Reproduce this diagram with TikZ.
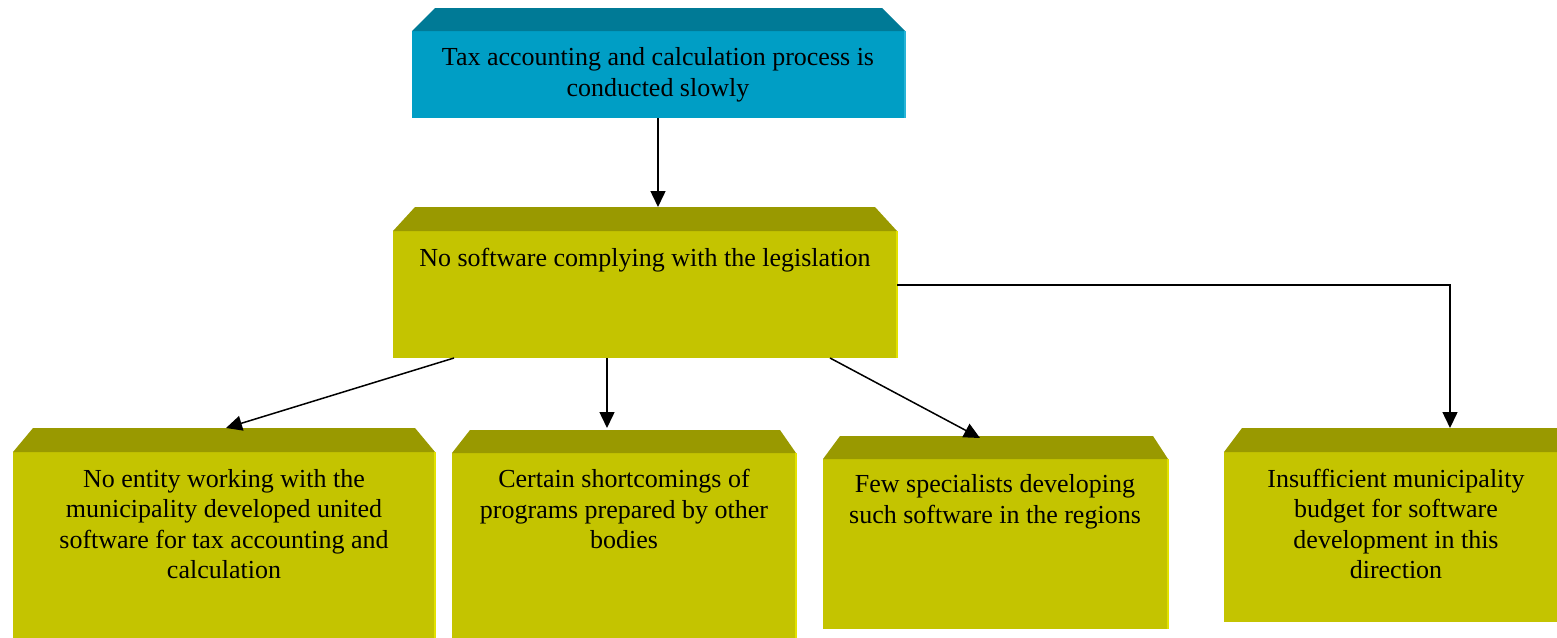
\documentclass[tikz,border=0pt]{standalone}
\usepackage{fontspec}
\setmainfont{Liberation Serif}
\usetikzlibrary{arrows.meta,calc}
\definecolor{bfront}{RGB}{0,158,197}
\definecolor{btop}{RGB}{0,122,150}
\definecolor{yfront}{RGB}{196,196,0}
\definecolor{ytop}{RGB}{153,153,0}
\definecolor{yedge}{RGB}{226,226,0}
\definecolor{bedge}{RGB}{40,180,215}
\begin{document}
\begin{tikzpicture}[x=1pt,y=-1pt,
  face/.style={draw=none, inner sep=0pt, outer sep=0pt, anchor=north west},
  txt/.style={align=center, inner sep=0pt, font=\fontsize{26}{30.5}\selectfont},
  arr/.style={line width=1.5pt, -{Triangle[length=16pt,width=15pt]}}]
\useasboundingbox (0,0) rectangle (1557,637);
% top box
\node[face, fill=bfront, minimum width=493pt, minimum height=87pt] (T) at (412,31) {};
\fill[btop] (T.north west) -- (435,8) -- (882,8) -- (T.north east) -- cycle;
\draw[bedge, line width=1.5pt] (T.north east) -- (T.south east);
\node[txt] (Tt) at (658,75) {Tax accounting and calculation process is\\conducted slowly};
% middle box
\node[face, fill=yfront, minimum width=504pt, minimum height=127pt] (M) at (393,231) {};
\fill[ytop] (M.north west) -- (415,207) -- (875,207) -- (M.north east) -- cycle;
\draw[yedge, line width=1.5pt] (M.north east) -- (M.south east);
\node[txt] (Mt) at (645,260) {No software complying with the legislation};
% bottom boxes
\node[face, fill=yfront, minimum width=422pt, minimum height=190pt] (A) at (13,452) {};
\fill[ytop] (A.north west) -- (33,428) -- (415,428) -- (A.north east) -- cycle;
\draw[yedge, line width=1.5pt] (A.north east) -- (A.south east);
\node[txt] (At) at (224,524) {No entity working with the\\municipality developed united\\software for tax accounting and\\calculation};

\node[face, fill=yfront, minimum width=344pt, minimum height=190pt] (B) at (452,453) {};
\fill[ytop] (B.north west) -- (470,430) -- (780,430) -- (B.north east) -- cycle;
\draw[yedge, line width=1.5pt] (B.north east) -- (B.south east);
\node[txt] (Bt) at (624,509) {Certain shortcomings of\\programs prepared by other\\bodies};

\node[face, fill=yfront, minimum width=345pt, minimum height=170pt] (C) at (823,459) {};
\fill[ytop] (C.north west) -- (840,436) -- (1153,436) -- (C.north east) -- cycle;
\draw[yedge, line width=1.5pt] (C.north east) -- (C.south east);
\node[txt] (Ct) at (995,502) {Few specialists developing\\such software in the regions};

\node[face, fill=yfront, minimum width=340pt, minimum height=170pt] (D) at (1224,452) {};
\fill[ytop] (D.north west) -- (1242,428) -- (1564,428) -- (D.north east) -- cycle;
\node[txt] (Dt) at (1396,524) {Insufficient municipality\\budget for software\\development in this\\direction};

% arrow targets
\coordinate (Mtip) at (658,207);
\coordinate (Atip) at (226,428);
\coordinate (Btip) at (607,428);
\coordinate (Ctip) at (980,438);
\coordinate (Dtip) at (1450,428);
% connectors
\draw[arr] (T.south -| Mtip) -- (Mtip);
\draw[arr] ([xshift=61pt]M.south west) -- (Atip);
\draw[arr] ([xshift=214pt]M.south west) -- (Btip);
\draw[arr] ([xshift=437pt]M.south west) -- (Ctip);
\draw[arr] ([yshift=-54pt]M.north east) -| (Dtip);
\end{tikzpicture}
\end{document}
